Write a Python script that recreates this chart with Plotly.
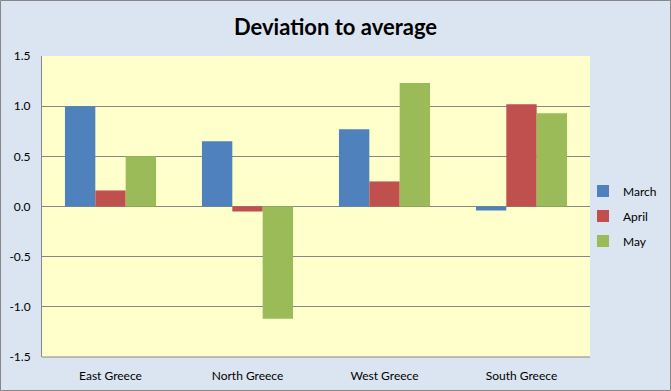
import plotly.graph_objects as go

categories = ["East Greece", "North Greece", "West Greece", "South Greece"]
march = [1.00, 0.65, 0.77, -0.04]
april = [0.16, -0.05, 0.25, 1.02]
may = [0.50, -1.12, 1.23, 0.93]
series_names = ["March", "April", "May"]
colors = ["#4f81bd", "#c0504d", "#9bbb59"]
y_ticks = [-1.5, -1.0, -0.5, 0.0, 0.5, 1.0, 1.5]

fig = go.Figure()
for name, vals, col in zip(series_names, [march, april, may], colors):
    fig.add_trace(go.Bar(x=categories, y=vals, name=name, marker_color=col,
                         marker_line_width=0, legendgroup=name))

W, H = 671, 391
ml, mr, mt, mb = 42, 81, 56, 34
pw, ph = W - ml - mr, H - mt - mb

fig.update_layout(
    width=W, height=H,
    margin=dict(l=ml, r=mr, t=mt, b=mb, autoexpand=False),
    paper_bgcolor="#dbe5f1",
    plot_bgcolor="#ffffcc",
    barmode="group", bargap=0.335, bargroupgap=0,
    font=dict(family="Lato, Open Sans, sans-serif", size=12, color="#000000"),
    title=dict(text="<b>Deviation to average</b>", x=0.5, xanchor="center",
               y=1 - 27 / H, yanchor="middle",
               font=dict(family="Lato, Open Sans, sans-serif", size=22, color="#000000")),
    legend=dict(x=(583 - ml) / pw, xanchor="left", y=(mt + ph - 216) / ph, yanchor="middle",
                bgcolor="rgba(0,0,0,0)", tracegroupgap=6,
                font=dict(size=12), itemwidth=30),
    showlegend=True,
)
fig.update_xaxes(showgrid=False, showline=False, ticks="", tickfont=dict(size=12),
                 zeroline=False, ticklabelstandoff=10)
fig.update_yaxes(range=[-1.5, 1.5], tickvals=y_ticks,
                 ticktext=[f"{v:.1f}" for v in y_ticks],
                 showgrid=True, gridcolor="#878787", gridwidth=1,
                 zeroline=True, zerolinecolor="#878787", zerolinewidth=1,
                 showline=True, linecolor="#878787", linewidth=1,
                 ticks="", ticklabelstandoff=8, tickfont=dict(size=12))
# outer chart border
fig.add_shape(type="rect", xref="paper", yref="paper",
              x0=(0.5 - ml) / pw, x1=(W - 0.5 - ml) / pw,
              y0=(mt + ph - (H - 0.5)) / ph, y1=(mt + ph - 0.5) / ph,
              line=dict(color="#878787", width=1), fillcolor="rgba(0,0,0,0)",
              layer="above")
# bottom gridline at -1.5 (axis)
fig.add_shape(type="line", xref="paper", yref="paper", x0=0, x1=1, y0=0, y1=0,
              line=dict(color="#878787", width=1))

fig.write_html("out.html", config={"displayModeBar": False},
               post_script="document.body.style.margin='0';document.body.style.overflow='hidden';")
